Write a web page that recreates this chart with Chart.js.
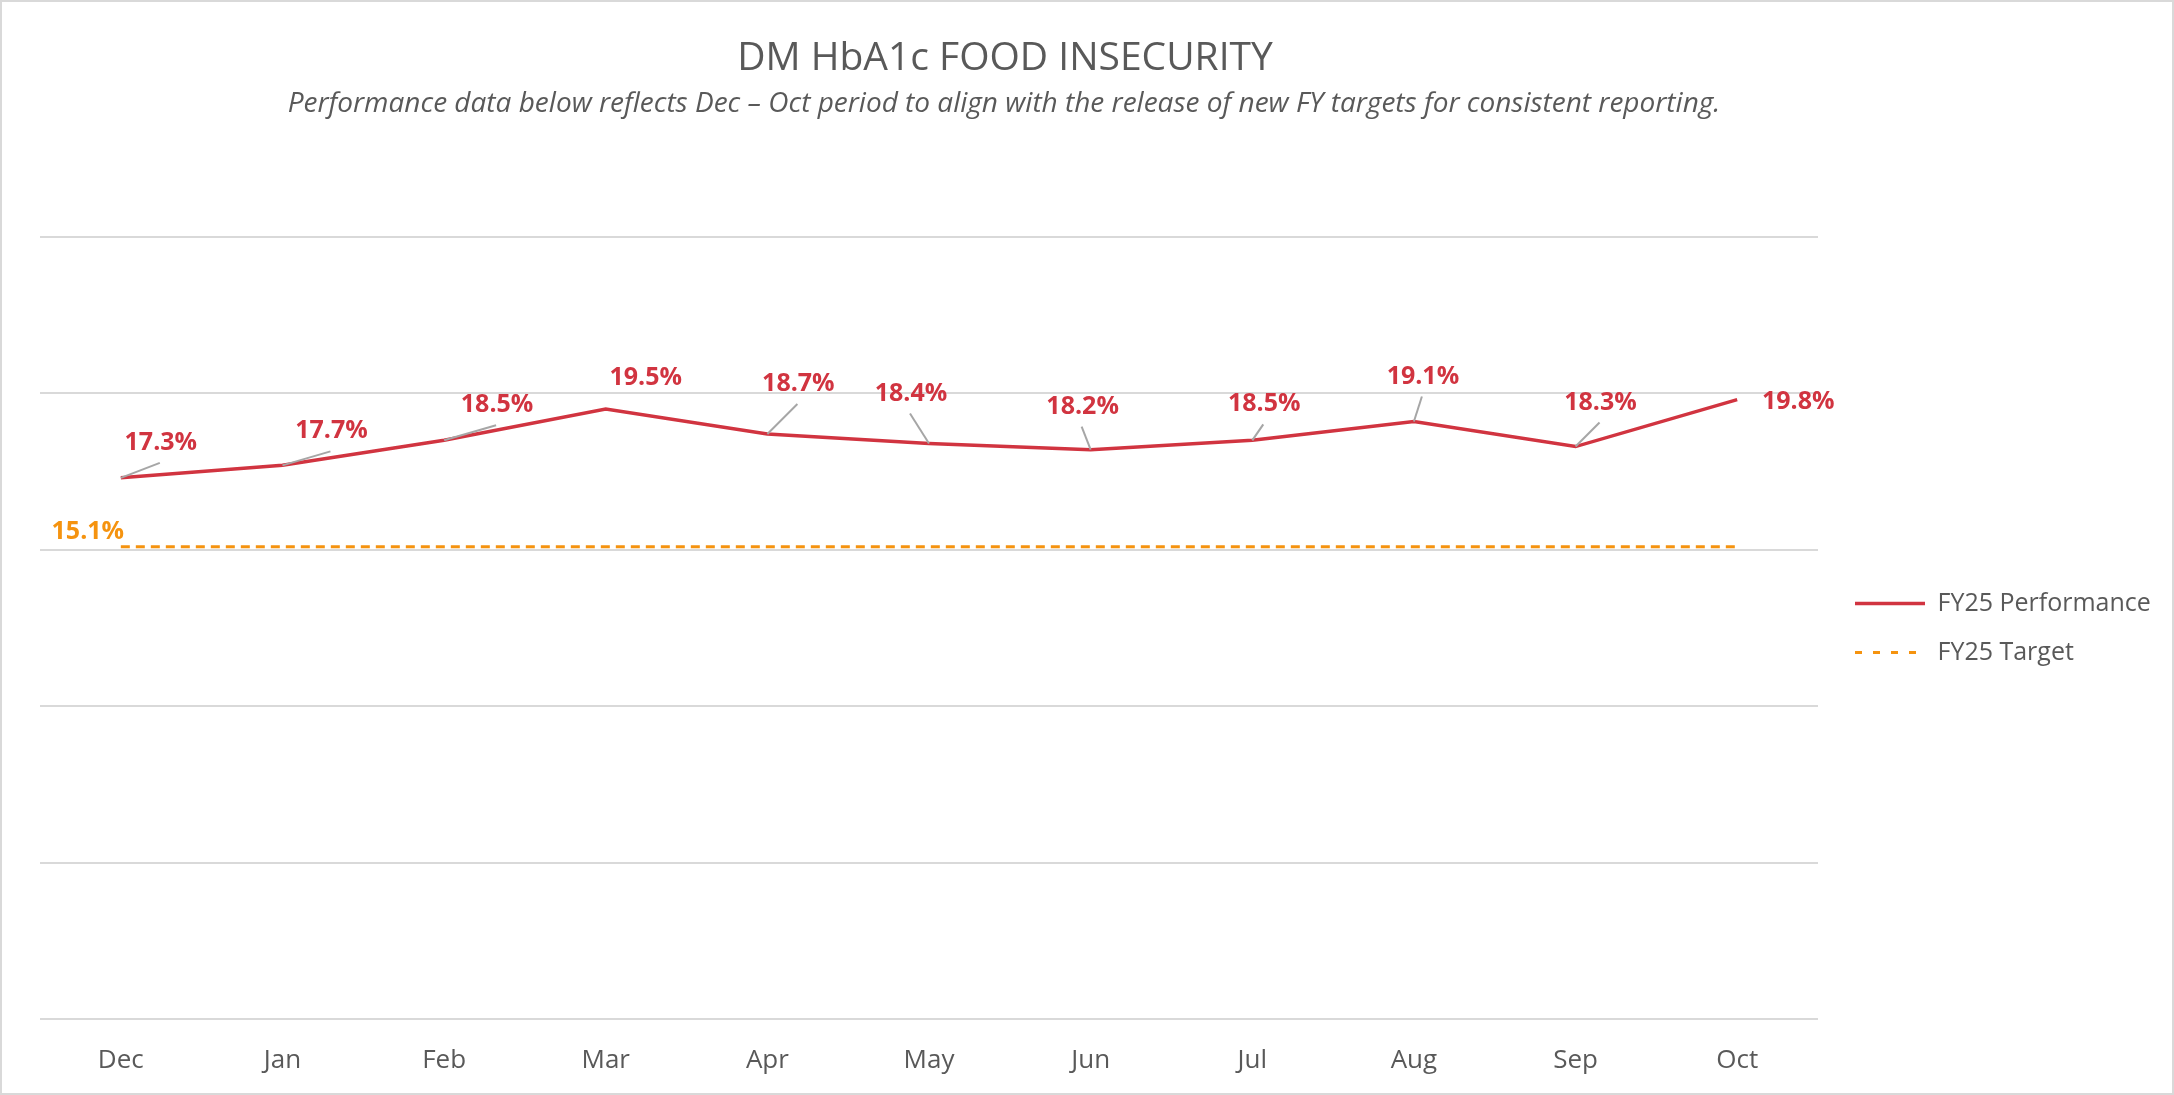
<!DOCTYPE html>
<html>
<head>
<meta charset="utf-8">
<script src="https://cdn.jsdelivr.net/npm/chart.js@4.4.1/dist/chart.umd.min.js"></script>
<style>
  html, body { margin: 0; padding: 0; background: #ffffff; }
  #chart_foodInsecurity { display: block; }
</style>
</head>
<body>
<canvas id="chart_foodInsecurity" width="2174" height="1095"></canvas>
<script>
// chart values
var months = ['Dec', 'Jan', 'Feb', 'Mar', 'Apr', 'May', 'Jun', 'Jul', 'Aug', 'Sep', 'Oct'];
var fy25Performance = [17.3, 17.7, 18.5, 19.5, 18.7, 18.4, 18.2, 18.5, 19.1, 18.3, 19.8];
var fy25Target = [15.1, 15.1, 15.1, 15.1, 15.1, 15.1, 15.1, 15.1, 15.1, 15.1, 15.1];

var chartTitle = 'DM HbA1c FOOD INSECURITY';
var chartSubtitle = 'Performance data below reflects Dec \u2013 Oct period to align with the release of new FY targets for consistent reporting.';

// label placement (offset of label centre from its point) and leader lines
var perfLabelOffsets = [[40, -35], [49, -34], [53, -35], [40, -31], [31, -50], [-18, -50], [-8, -43], [12, -36], [9, -45], [25, -44], [61, 2]];
var perfLeaders = [true, true, true, false, true, true, true, true, true, true, false];
var targetLabelOffset = [-33, -15];

var textGrey = '#595959';
var perfRed = '#d13440';
var targetOrange = '#f5930f';
var fontFamily = '"Open Sans", "Noto Sans", sans-serif';

// legend sizing so the plot keeps its right edge
var legendFontSize = 25;
var legendPadding = 24;
var legendLineWidth = 70;
var legendDashes = [[], [7, 11]];
var measureCtx = document.createElement('canvas').getContext('2d');
measureCtx.font = legendFontSize + 'px ' + fontFamily;
var legendTextWidth = Math.max(measureCtx.measureText('FY25 Performance').width, measureCtx.measureText('FY25 Target').width);
var legendBoxWidth = legendPadding + legendLineWidth + legendFontSize / 2 + legendTextWidth + 10;
var rightPadding = Math.max(0, 2174 - 1831 - legendBoxWidth);

var chart_foodInsecurity = new Chart(document.getElementById('chart_foodInsecurity'), {
    type: 'line',
    data: {
        labels: months,
        datasets: [
            {
                label: 'FY25 Performance',
                data: fy25Performance,
                borderColor: perfRed,
                backgroundColor: perfRed,
                borderWidth: 3.5,
                pointRadius: 0,
                tension: 0
            },
            {
                label: 'FY25 Target',
                data: fy25Target,
                borderColor: targetOrange,
                backgroundColor: targetOrange,
                borderWidth: 3,
                borderDash: [9, 6],
                pointRadius: 0,
                tension: 0
            }
        ]
    },
    options: {
        animation: false,
        responsive: false,
        layout: {
            padding: { left: 40, top: 237, right: rightPadding, bottom: 0 }
        },
        plugins: {
            title: { display: false },
            tooltip: { enabled: false },
            legend: {
                position: 'right',
                align: 'center',
                fullSize: false,
                labels: {
                    usePointStyle: true,
                    pointStyle: 'line',
                    pointStyleWidth: legendLineWidth,
                    padding: legendPadding,
                    color: textGrey,
                    font: { family: fontFamily, size: legendFontSize },
                    generateLabels: function(chart) {
                        const items = Chart.defaults.plugins.legend.labels.generateLabels(chart);
                        items.forEach((item, i) => {
                            const ds = chart.data.datasets[item.datasetIndex];
                            item.strokeStyle = ds.borderColor;
                            item.lineWidth = ds.borderWidth;
                            item.lineDash = legendDashes[i];
                        });
                        return items;
                    }
                }
            }
        },
        scales: {
            x: {
                offset: true,
                grid: { display: false },
                border: { display: false },
                ticks: {
                    color: textGrey,
                    padding: 18,
                    font: { family: fontFamily, size: 26 }
                },
                afterFit: function(scale) { scale.height = 76; }
            },
            y: {
                position: 'right',
                min: 0,
                max: 25,
                ticks: { display: false, stepSize: 5 },
                border: { display: false },
                grid: { color: '#d9d9d9', lineWidth: 2, drawTicks: false },
                afterFit: function(scale) { scale.width = 13; }
            }
        }
    },
    plugins: [{
        id: 'frameAndTitles',
        beforeDraw: (chart) => {
            const ctx = chart.ctx;
            ctx.save();
            ctx.fillStyle = 'white';
            ctx.fillRect(0, 0, chart.width, chart.height);
            ctx.restore();
        },
        afterDraw: (chart) => {
            const ctx = chart.ctx;
            ctx.save();
            ctx.strokeStyle = '#d9d9d9';
            ctx.lineWidth = 2;
            ctx.strokeRect(1, 1, chart.width - 2, chart.height - 2);
            ctx.fillStyle = textGrey;
            ctx.textAlign = 'center';
            ctx.textBaseline = 'middle';
            ctx.font = '39px ' + fontFamily;
            ctx.fillText(chartTitle, 1005, 59);
            ctx.font = 'italic 28px ' + fontFamily;
            ctx.fillText(chartSubtitle, 1004, 104);
            ctx.restore();
        }
    }, {
        id: 'valueLabels',
        afterDatasetsDraw: (chart) => {
            const ctx = chart.ctx;
            ctx.save();
            ctx.textAlign = 'center';
            ctx.textBaseline = 'middle';
            ctx.font = 'bold 25px ' + fontFamily;
            const perfMeta = chart.getDatasetMeta(0);
            perfMeta.data.forEach((pt, i) => {
                const lx = pt.x + perfLabelOffsets[i][0];
                const ly = pt.y + perfLabelOffsets[i][1];
                if (perfLeaders[i]) {
                    ctx.strokeStyle = '#a6a6a6';
                    ctx.lineWidth = 2;
                    ctx.beginPath();
                    ctx.moveTo(pt.x, pt.y);
                    ctx.lineTo(lx - 1, ly + 20);
                    ctx.stroke();
                }
                ctx.fillStyle = perfRed;
                ctx.fillText(fy25Performance[i].toFixed(1) + '%', lx, ly);
            });
            const tPt = chart.getDatasetMeta(1).data[0];
            ctx.fillStyle = targetOrange;
            ctx.fillText(fy25Target[0].toFixed(1) + '%', tPt.x + targetLabelOffset[0], tPt.y + targetLabelOffset[1]);
            ctx.restore();
        }
    }]
});
</script>
</body>
</html>
